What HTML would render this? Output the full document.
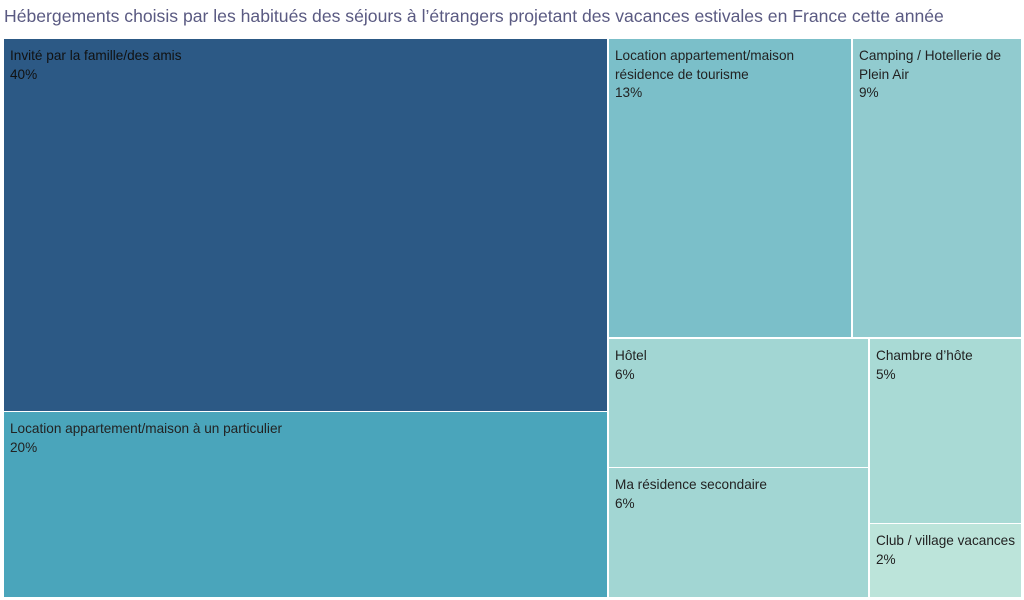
<!DOCTYPE html>
<html><head><meta charset="utf-8"><style>
body{margin:0;width:1024px;height:600px;background:#fff;font-family:"Liberation Sans","DejaVu Sans",sans-serif;position:relative;overflow:hidden}
.t{position:absolute;left:4px;top:6px;font-size:17.6px;color:#5a5a82;white-space:nowrap}
.r{position:absolute;box-sizing:border-box;padding:8px 6px;font-size:13.6px;line-height:18.5px;color:#222;white-space:nowrap;overflow:hidden}
</style></head><body>
<div class="t">Hébergements choisis par les habitués des séjours à l’étrangers projetant des vacances estivales en France cette année</div>
<div class="r" style="left:4px;top:39px;width:603px;height:372px;background:#2c5985;color:#111">Invité par la famille/des amis<br>40%</div>
<div class="r" style="left:4px;top:412px;width:603px;height:185px;background:#4aa5bb">Location appartement/maison à un particulier<br>20%</div>
<div class="r" style="left:609px;top:39px;width:242px;height:298px;background:#7bbfc9">Location appartement/maison<br>résidence de tourisme<br>13%</div>
<div class="r" style="left:853px;top:39px;width:168px;height:298px;background:#91cbcf">Camping / Hotellerie de<br>Plein Air<br>9%</div>
<div class="r" style="left:609px;top:339px;width:259px;height:128px;background:#a2d6d3">Hôtel<br>6%</div>
<div class="r" style="left:609px;top:468px;width:259px;height:129px;background:#a2d6d3">Ma résidence secondaire<br>6%</div>
<div class="r" style="left:870px;top:339px;width:151px;height:184px;background:#a9dad5">Chambre d’hôte<br>5%</div>
<div class="r" style="left:870px;top:524px;width:151px;height:73px;background:#bce4da">Club / village vacances<br>2%</div>
</body></html>
